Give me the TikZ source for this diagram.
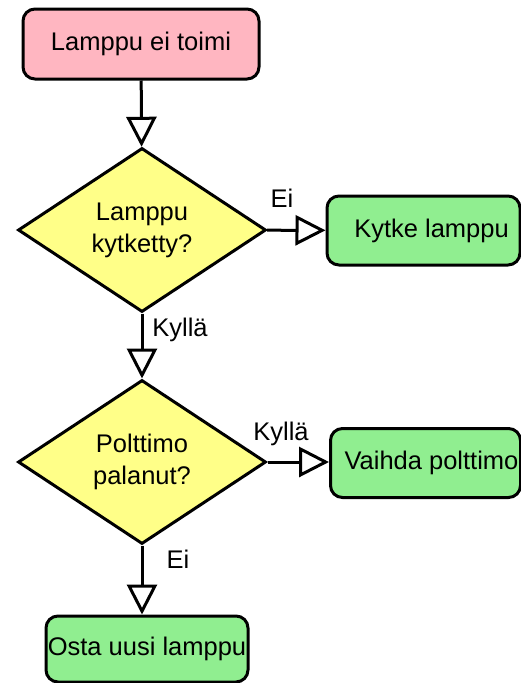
\documentclass[tikz,border=0pt]{standalone}
\usepackage{fontspec}
\setmainfont{Liberation Sans}
\usetikzlibrary{shapes.geometric,arrows.meta}
\definecolor{pinkfill}{HTML}{FFB6C1}
\definecolor{yellowfill}{HTML}{FFFF88}
\definecolor{greenfill}{HTML}{90EE90}
\begin{document}
\begin{tikzpicture}[x=1pt,y=-1pt,
  every node/.style={font=\fontsize{25.5}{32}\selectfont},
  box/.style={draw, line width=3pt, rounded corners=12pt, inner sep=0pt, align=center},
  decision/.style={draw, diamond, line width=3pt, fill=yellowfill, inner sep=0pt,
    minimum width=248pt, minimum height=164pt, align=center},
  arr/.style={line width=3pt, -{Triangle[open,length=30pt,width=30pt,fill=white]}},
  lbl/.style={inner sep=0pt}]
\useasboundingbox (0,0) rectangle (521,683);
\node[box, fill=pinkfill, minimum width=236pt, minimum height=70pt] (start) at (141,44) {Lamppu ei toimi};
\node[decision] (d1) at (142,230) {Lamppu\\kytketty?};
\node[box, fill=greenfill, minimum width=193pt, minimum height=69pt] (kytke) at (423.5,230.5) {\hspace*{16pt}Kytke lamppu};
\node[decision] (d2) at (142,462) {Polttimo\\palanut?};
\node[box, fill=greenfill, minimum width=190pt, minimum height=69pt] (vaihda) at (425.5,463) {\hspace*{12pt}Vaihda polttimo};
\node[box, fill=greenfill, minimum width=202pt, minimum height=66pt] (osta) at (147,649) {Osta uusi lamppu};
\draw[arr] (start) -- (d1);
\draw[arr] (d1) -- (kytke);
\draw[arr] (d1) -- (d2);
\draw[arr] (d2.east) -- (d2.east -| vaihda.west);
\draw[arr] (d2) -- (d2.south |- osta.north);
\node[lbl] (l1) at (282,198) {Ei};
\node[lbl] (l2) at (180,330) {Kyllä};
\node[lbl] (l3) at (281,434) {Kyllä};
\node[lbl] (l4) at (178,559) {Ei};
\end{tikzpicture}
\end{document}
